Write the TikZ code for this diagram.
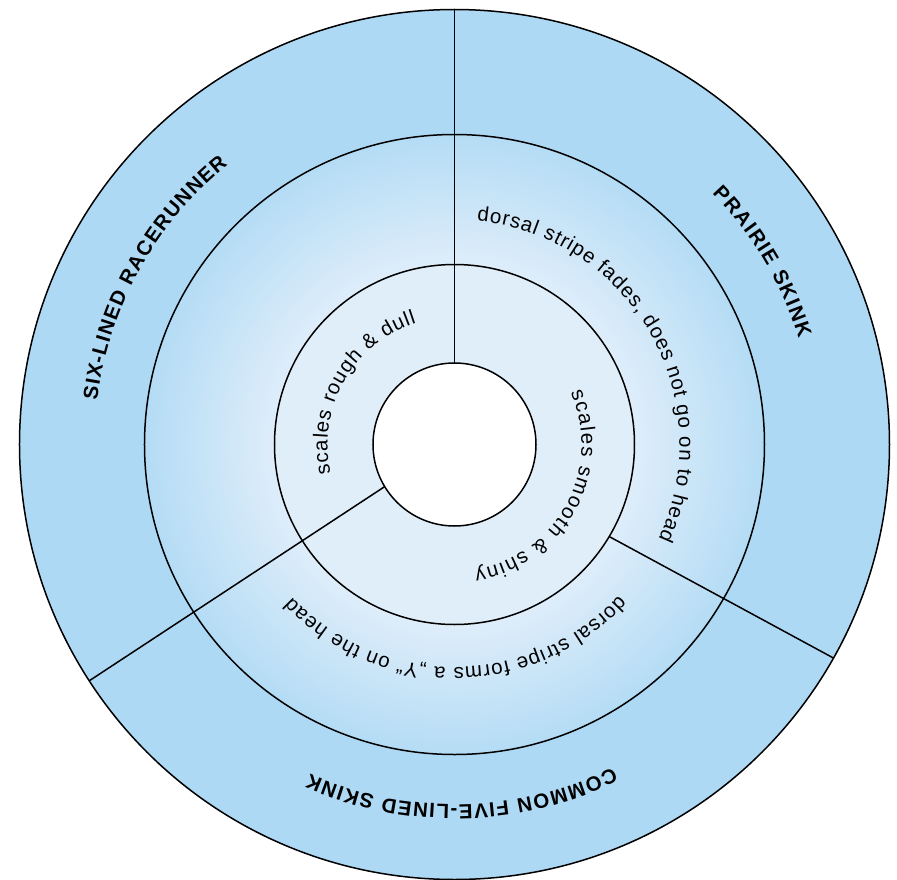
\documentclass[tikz,border=0pt]{standalone}
\usepackage{fontspec}
\setmainfont{Liberation Sans}
\usepackage{xcolor}
\usetikzlibrary{decorations.text}
\definecolor{RingBlue}{RGB}{174,217,244}
\definecolor{EdgeBlue}{RGB}{180,220,245}
\definecolor{PaleBlue}{RGB}{224,238,249}
\definecolor{FadeBlue}{RGB}{222,237,250}
\newcommand{\speciesfont}{\fontsize{20.5}{24}\selectfont\bfseries}
\newcommand{\traitfont}{\fontsize{20.5}{24}\selectfont}
\pgfdeclareradialshading{midfade}{\pgfpoint{0bp}{0bp}}{color(0bp)=(FadeBlue); color(14.5bp)=(FadeBlue); color(25bp)=(EdgeBlue); color(50bp)=(EdgeBlue)}

\begin{document}
\begin{tikzpicture}[x=1pt, y=1pt, line width=1.5pt,
    ringlabel/.style={decorate, decoration={text along path, text align=fit to path, text={#1}}}]
  \useasboundingbox (-454.5,-434.5) rectangle (442.5,444.5);
  % rings
  \fill[RingBlue] (0,0) circle[radius=435];
  \shade[shading=midfade] (0,0) circle[radius=310];
  \fill[PaleBlue] (0,0) circle[radius=180];
  \fill[white] (0,0) circle[radius=81.5];
  \foreach \r in {435,310,180,81.5}
    \draw (0,0) circle[radius=\r];
  % dividers
  \coordinate (hole-n) at (90:81.5);
  \coordinate (rim-n) at (90:435);
  \coordinate (hole-sw) at (211.1:81.5);
  \coordinate (rim-sw) at (212.9:435);
  \coordinate (inner-se) at (-30.75:180);
  \coordinate (rim-se) at (-29.4:435);
  \draw (hole-n) -- (rim-n);
  \draw (hole-sw) -- (rim-sw);
  \draw (inner-se) -- (rim-se);
  % species
  \path[ringlabel={|\speciesfont|SIX-LINED RACERUNNER}] (173:360) arc[start angle=173, end angle=129, radius=360];
  \path[ringlabel={|\speciesfont|PRAIRIE SKINK}] (44.3:360) arc[start angle=44.3, end angle=17.1, radius=360];
  \path[ringlabel={|\speciesfont|COMMON FIVE-LINED SKINK}] (296.1:360) arc[start angle=296.1, end angle=246.3, radius=360];
  % stripes
  \path[ringlabel={|\traitfont|dorsal stripe fades, does not go on to head}] (84.3:225) arc[start angle=84.3, end angle=-24.9, radius=225];
  \path[ringlabel={|\traitfont|dorsal stripe forms a „Y“ on the head}] (317.5:223) arc[start angle=317.5, end angle=223.2, radius=223];
  % scales
  \path[ringlabel={|\traitfont|scales rough {\&} dull}] (193.1:127) arc[start angle=193.1, end angle=107.5, radius=127];
  \path[ringlabel={|\traitfont|scales smooth {\&} shiny}] (24:127) arc[start angle=24, end angle=-81, radius=127];
\end{tikzpicture}
\end{document}
